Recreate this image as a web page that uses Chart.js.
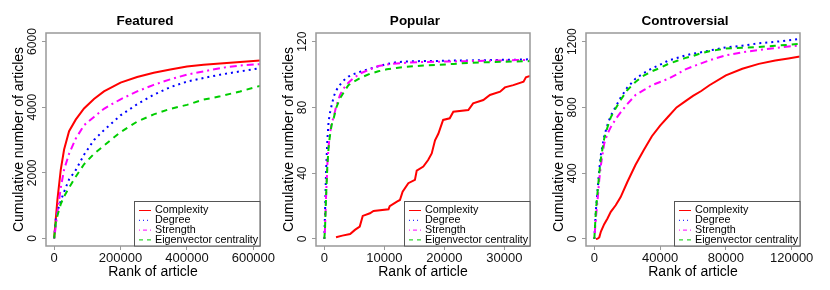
<!DOCTYPE html>
<html lang="en">
<head>
<meta charset="UTF-8">
<title>Cumulative number of articles by rank</title>
<script src="https://cdn.jsdelivr.net/npm/chart.js"></script>
<style>
    body { margin: 0; background: #fff; width: 830px; height: 290px; overflow: hidden; }
    .panel { position: absolute; top: 0; width: 290px; height: 290px; }
    #featured { left: 0; }
    #popular { left: 270px; }
    #controversial { left: 540px; }
</style>
</head>
<body>
<div class="panel" id="featured"><canvas id="featuredChart" width="290" height="290"></canvas></div>
<div class="panel" id="popular"><canvas id="popularChart" width="290" height="290"></canvas></div>
<div class="panel" id="controversial"><canvas id="controversialChart" width="290" height="290"></canvas></div>
<script>
// --- Featured ---
const featuredRank = [0, 5000, 10000, 20000, 30000, 45000, 65000, 90000, 120000, 150000, 200000, 250000, 300000, 350000, 400000, 450000, 500000, 560000, 620000];
const featuredComplexity = [0, 600, 1190, 2100, 2710, 3270, 3620, 3960, 4250, 4480, 4750, 4920, 5050, 5150, 5240, 5290, 5330, 5380, 5420];
const featuredDegree = [0, 580, 820, 1150, 1420, 1800, 2080, 2550, 3000, 3300, 3750, 4090, 4380, 4610, 4780, 4890, 4990, 5090, 5190];
const featuredStrength = [0, 375, 800, 1550, 2100, 2580, 3040, 3450, 3700, 3950, 4240, 4480, 4680, 4850, 4990, 5090, 5190, 5270, 5310];
const featuredEigenvector = [0, 480, 700, 1050, 1280, 1550, 1880, 2260, 2580, 2830, 3240, 3560, 3780, 3950, 4070, 4230, 4330, 4480, 4650];
const featuredXTicks = [0, 200000, 400000, 600000];
const featuredYTicks = [0, 2000, 4000, 6000];

// --- Popular ---
const popularRank = [0, 110, 280, 500, 700, 900, 1200, 1600, 2000, 2600, 3200, 4000, 4800, 6000, 7600, 9000, 10400, 12000, 13200, 16000, 18700, 21500, 24300, 27000, 30000, 32000, 34280];
const popularDegree = [0, 15, 40, 60, 71, 76, 81, 87, 90.5, 93.8, 96.4, 98.7, 100.2, 101.7, 103.6, 105, 106.4, 107.5, 107.9, 108.2, 108.3, 108.5, 108.6, 108.8, 109, 109.1, 109.3];
const popularStrength = [0, 6, 25, 45, 56, 63, 70, 75, 81, 87.5, 91.5, 95, 97.7, 100.7, 103.2, 105.2, 106.1, 106.8, 107.1, 107.6, 107.8, 108, 108.2, 108.4, 108.6, 108.8, 108.9];
const popularEigenvector = [0, 6, 25, 44, 55, 62, 69, 74, 80, 85.5, 89, 93.5, 95.5, 98, 100.5, 102, 103.2, 104, 104.6, 105.4, 105.8, 106.5, 107.2, 107.5, 107.8, 108, 108.2];
const popularRankComplexity = [1950, 3000, 4300, 5100, 5900, 6400, 7600, 8200, 10700, 10900, 12100, 12600, 13050, 14000, 15100, 15400, 16500, 17300, 17900, 18450, 19000, 19800, 20900, 21500, 24000, 24800, 26500, 27600, 29300, 30100, 31500, 33200, 33600, 34280];
const popularComplexity = [1, 2, 3, 5.5, 7.5, 14, 15.6, 17, 18, 20, 22.7, 23.7, 28.8, 33.9, 35.9, 41.6, 44, 48, 52, 60, 64, 72.4, 73.4, 77.4, 78.4, 82.5, 84.5, 87.6, 89.6, 92.2, 93.6, 95.7, 98.3, 99.1];
const popularXTicks = [0, 10000, 20000, 30000];
const popularYTicks = [0, 40, 80, 120];

// --- Controversial ---
const controversialRank = [0, 1000, 2000, 3000, 4000, 6000, 8000, 10000, 13000, 16000, 20000, 25000, 30000, 35000, 40000, 45000, 50000, 55000, 60000, 65000, 70000, 80000, 90000, 100000, 110000, 118000, 125000];
const controversialComplexity = [null, 0, 2, 10, 45, 90, 125, 165, 205, 255, 345, 450, 540, 625, 690, 745, 800, 835, 870, 900, 935, 995, 1035, 1065, 1085, 1098, 1110];
const controversialDegree = [0, 180, 300, 420, 515, 625, 695, 750, 805, 860, 920, 975, 1008, 1037, 1060, 1085, 1100, 1115, 1127, 1136, 1146, 1165, 1175, 1190, 1199, 1208, 1216];
const controversialStrength = [0, 135, 240, 360, 450, 580, 640, 680, 730, 770, 820, 875, 905, 935, 955, 975, 1000, 1030, 1050, 1068, 1087, 1117, 1135, 1150, 1161, 1170, 1177];
const controversialEigenvector = [0, 180, 290, 400, 490, 610, 680, 740, 795, 845, 905, 955, 993, 1020, 1040, 1065, 1082, 1100, 1113, 1130, 1142, 1158, 1163, 1168, 1175, 1181, 1187];
const controversialXTicks = [0, 40000, 80000, 120000];
const controversialYTicks = [0, 400, 800, 1200];

const FONT = '"Liberation Sans", Arial, Helvetica, sans-serif';
Chart.defaults.font.family = FONT;

// line styles: plot lines, then the thinner legend keys
const styles = {
    Complexity: { color: '#FF0000', dash: [], key: [] },
    Degree: { color: '#0000FF', dash: [2, 4], key: [1, 3] },
    Strength: { color: '#FF00FF', dash: [2, 4, 7, 4], key: [1, 3, 4, 3] },
    'Eigenvector centrality': { color: '#00CD00', dash: [6, 5], key: [4, 4] }
};

function points(rank, values) {
    return rank.map((r, i) => ({ x: r, y: values[i] }));
}

// rotated y labels are centred at widest/2 left of the padding, so undo that
function yTickPadding(labels) {
    const ctx = document.createElement('canvas').getContext('2d');
    ctx.font = '12px ' + FONT;
    const widest = Math.max(...labels.map(l => ctx.measureText(l).width));
    return 9 - widest / 2;
}

// grey box round the plot region
const boxPlugin = {
    id: 'plotBox',
    afterDatasetsDraw(chart) {
        const a = chart.chartArea, ctx = chart.ctx;
        ctx.save();
        ctx.strokeStyle = '#999';
        ctx.lineWidth = 1.5;
        ctx.strokeRect(a.left, a.top, a.right - a.left, a.bottom - a.top);
        ctx.restore();
    }
};

// legend box in the lower right corner
const keyPlugin = {
    id: 'cornerKey',
    afterDraw(chart) {
        const a = chart.chartArea, ctx = chart.ctx;
        const w = 126, top = 201, left = a.right - w;
        ctx.save();
        ctx.fillStyle = '#fff';
        ctx.fillRect(left, top, w, a.bottom - top);
        ctx.strokeStyle = '#555';
        ctx.lineWidth = 1;
        ctx.strokeRect(left + 0.5, top + 0.5, w - 0.5, a.bottom - top - 0.5);
        ctx.font = '10.8px ' + FONT;
        ctx.textBaseline = 'middle';
        ctx.fillStyle = '#000';
        chart.data.datasets.forEach((ds, i) => {
            const y = top + 9.5 + i * 9.8;
            const st = styles[ds.label];
            ctx.strokeStyle = st.color;
            ctx.setLineDash(st.key);
            ctx.beginPath();
            ctx.moveTo(left + 5, y);
            ctx.lineTo(left + 17, y);
            ctx.stroke();
            ctx.setLineDash([]);
            ctx.fillText(ds.label, left + 21, y);
        });
        ctx.restore();
    }
};

function makePanel(canvasId, title, series, xMin, xMax, xTicks, yMin, yMax, yTicks) {
    const datasets = series.map((s, i) => ({
        label: s.label,
        data: points(s.rank, s.values),
        borderColor: styles[s.label].color,
        borderDash: styles[s.label].dash,
        borderWidth: 2,
        pointRadius: 0,
        tension: 0,
        fill: false,
        order: series.length - i
    }));
    const gridOpts = { display: true, drawOnChartArea: false, drawTicks: true, tickLength: 4, color: '#999' };
    new Chart(document.getElementById(canvasId), {
        type: 'line',
        data: { datasets },
        options: {
            responsive: false,
            animation: false,
            devicePixelRatio: 1,
            events: [],
            layout: { padding: 0 },
            plugins: {
                legend: { display: false },
                tooltip: { enabled: false },
                title: {
                    display: true, text: title, color: '#000',
                    font: { size: 13.5, weight: 'bold' },
                    padding: { top: 13.4, bottom: 3.4 }
                }
            },
            scales: {
                x: {
                    type: 'linear', min: xMin, max: xMax,
                    afterBuildTicks: s => { s.ticks = xTicks.map(v => ({ value: v })); },
                    afterFit: s => { s.height = 44; s.paddingLeft = 0; s.paddingRight = 0; },
                    grid: gridOpts,
                    border: { display: false },
                    ticks: { font: { size: 13 }, color: '#111', padding: 0.2, maxRotation: 0, autoSkip: false, callback: v => String(v) },
                    title: { display: true, text: 'Rank of article', color: '#000', font: { size: 14 }, padding: { top: 0, bottom: 9.6 } }
                },
                y: {
                    type: 'linear', min: yMin, max: yMax,
                    afterBuildTicks: s => { s.ticks = yTicks.map(v => ({ value: v })); },
                    afterFit: s => { s.width = 46; s.paddingTop = 0; s.paddingBottom = 0; },
                    grid: gridOpts,
                    border: { display: false },
                    ticks: {
                        font: { size: 12 }, color: '#111', minRotation: 90, maxRotation: 90,
                        crossAlign: 'center', autoSkip: false,
                        padding: yTickPadding(yTicks.map(String)),
                        callback: v => String(v)
                    },
                    title: { display: true, text: 'Cumulative number of articles', color: '#000', font: { size: 14 }, padding: { top: 10.6, bottom: 0 } }
                },
                // empty right margin so the title centres where R put it
                margin: {
                    type: 'linear', position: 'right', display: true,
                    afterFit: s => { s.width = 30; s.paddingTop = 0; s.paddingBottom = 0; },
                    grid: { display: false, drawTicks: false },
                    border: { display: false },
                    ticks: { display: false }
                }
            }
        },
        plugins: [boxPlugin, keyPlugin]
    });
}

makePanel('featuredChart', 'Featured', [
    { label: 'Complexity', rank: featuredRank, values: featuredComplexity },
    { label: 'Degree', rank: featuredRank, values: featuredDegree },
    { label: 'Strength', rank: featuredRank, values: featuredStrength },
    { label: 'Eigenvector centrality', rank: featuredRank, values: featuredEigenvector }
], -24500, 620000, featuredXTicks, -230, 6260, featuredYTicks);

makePanel('popularChart', 'Popular', [
    { label: 'Complexity', rank: popularRankComplexity, values: popularComplexity },
    { label: 'Degree', rank: popularRank, values: popularDegree },
    { label: 'Strength', rank: popularRank, values: popularStrength },
    { label: 'Eigenvector centrality', rank: popularRank, values: popularEigenvector }
], -1389, 34280, popularXTicks, -4.3, 125.3, popularYTicks);

makePanel('controversialChart', 'Controversial', [
    { label: 'Complexity', rank: controversialRank, values: controversialComplexity },
    { label: 'Degree', rank: controversialRank, values: controversialDegree },
    { label: 'Strength', rank: controversialRank, values: controversialStrength },
    { label: 'Eigenvector centrality', rank: controversialRank, values: controversialEigenvector }
], -5067, 125070, controversialXTicks, -42.6, 1252.7, controversialYTicks);
</script>
</body>
</html>
